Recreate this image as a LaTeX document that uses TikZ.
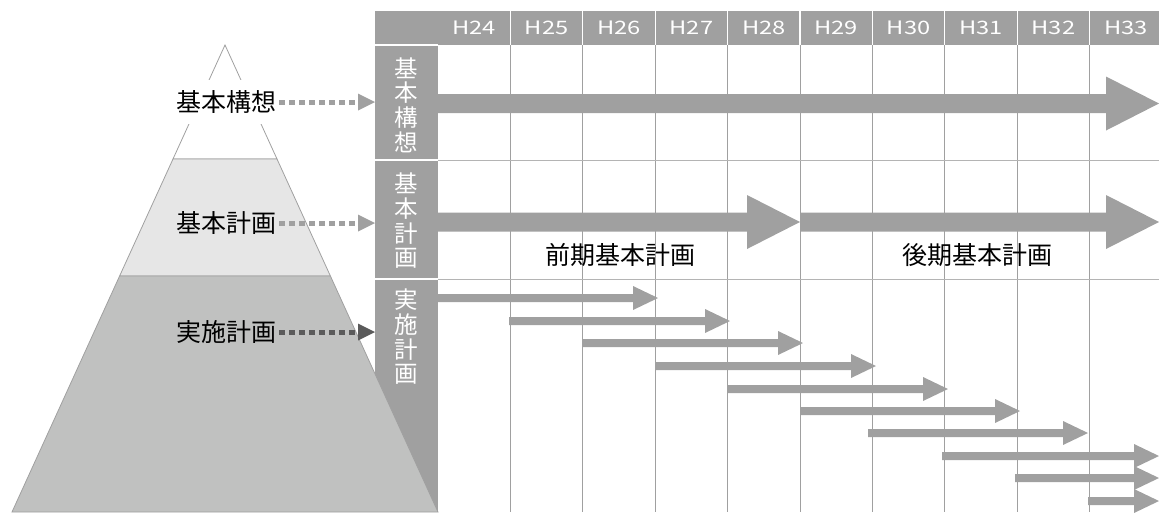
\documentclass[tikz,border=0pt]{standalone}
\usepackage{fontspec}
\setmainfont{Noto Sans CJK JP}
\definecolor{colgray}{HTML}{A0A0A0}
\definecolor{gridgray}{HTML}{A0A0A0}
\definecolor{hgray}{HTML}{B4B4B4}
\definecolor{pyrmid}{HTML}{E6E6E6}
\definecolor{pyrlow}{HTML}{C0C1C0}
\definecolor{dotdark}{HTML}{5A5A5A}
\newcommand\smallarrow[3]{\fill[colgray] (#1,#3-4) -- (#2-25,#3-4) -- (#2-25,#3-12) -- (#2,#3) -- (#2-25,#3+12) -- (#2-25,#3+4) -- (#1,#3+4) -- cycle;}
\newcommand\bigarrow[3]{\fill[colgray] (#1,#3-9.5) -- (#2-53,#3-9.5) -- (#2-53,#3-27) -- (#2,#3) -- (#2-53,#3+27) -- (#2-53,#3+9.5) -- (#1,#3+9.5) -- cycle;}
\begin{document}
\begin{tikzpicture}[x=1pt,y=-1pt,
  hdr/.style={text=white,font=\fontsize{18.5}{18.5}\selectfont,inner sep=0pt},
  coltext/.style={text=white,font=\fontsize{23.5}{24.7}\selectfont,align=center,inner sep=0pt},
  lbl/.style={text=black,font=\fontsize{25}{25}\selectfont,inner xsep=3pt,inner ysep=0pt},
  dots/.style={line width=5pt,dash pattern=on 6pt off 4pt},
  pyr/.style={draw=colgray,line width=0.8pt}]
\useasboundingbox (0,0) rectangle (1159,512);
% header band
\fill[colgray] (375,11) rectangle (1159,45);
\foreach \i in {1,...,9} \draw[white,line width=1.2pt] (438+72.4*\i,11) -- (438+72.4*\i,45);
\foreach \i/\t in {0/H24,1/H25,2/H26,3/H27,4/H28,5/H29,6/H30,7/H31,8/H32,9/H33}
  \node[hdr] (h\i) at (438+72.4*\i+36.2,28) {\scalebox{1.28}[1]{\t}};
% left column
\fill[colgray] (375,45) rectangle (438,512);
\foreach \y in {45,160,279} \draw[white,line width=1.2pt] (375,\y) -- (438,\y);
% grid
\foreach \i in {1,...,9} \draw[gridgray,line width=1pt] (438+72.4*\i,45) -- (438+72.4*\i,512);
\foreach \y in {160,279} \draw[hgray,line width=1pt] (438,\y) -- (1159,\y);
% column texts
\node[coltext] (c1) at (406.5,105) {基\\本\\構\\想};
\node[coltext] (c2) at (406.5,221) {基\\本\\計\\画};
\node[coltext] (c3) at (406.5,337) {実\\施\\計\\画};
% big arrows
\bigarrow{438}{1159}{103.5}
\bigarrow{438}{800}{222}
\bigarrow{801}{1159}{222}
\node[font=\fontsize{25}{25}\selectfont,inner sep=0pt] (early) at (620,255) {前期基本計画};
\node[font=\fontsize{25}{25}\selectfont,inner sep=0pt] (late) at (977,255) {後期基本計画};
% small arrows
\smallarrow{438}{658}{298}
\smallarrow{509}{730}{321}
\smallarrow{583}{803}{343}
\smallarrow{656}{876}{366}
\smallarrow{728}{948}{389}
\smallarrow{800}{1020}{411}
\smallarrow{868}{1088}{433}
\smallarrow{942}{1159}{456}
\smallarrow{1015}{1159}{478}
\smallarrow{1088}{1159}{501}
% pyramid
\path[pyr,fill=white] (225,45) -- (277,159) -- (173,159) -- cycle;
\path[pyr,fill=pyrmid] (173,159) -- (277,159) -- (330.4,276) -- (119.6,276) -- cycle;
\path[pyr,fill=pyrlow] (119.6,276) -- (330.4,276) -- (438,512) -- (12,512) -- cycle;
% labels
\node[lbl,fill=white,minimum height=44pt] (p1) at (226,102) {基本構想};
\node[lbl] (p2) at (226,223) {基本計画};
\node[lbl] (p3) at (226,332) {実施計画};
% dotted connectors
\coordinate (e1) at (358,102);
\coordinate (e2) at (358,223);
\coordinate (e3) at (358,332);
\draw[dots,colgray] (p1.east) -- (e1);
\fill[colgray] (358,93.5) -- (375,102) -- (358,110.5) -- cycle;
\draw[dots,colgray] (p2.east) -- (e2);
\fill[colgray] (358,214.5) -- (375,223) -- (358,231.5) -- cycle;
\draw[dots,dotdark] (p3.east) -- (e3);
\fill[dotdark] (358,323.5) -- (375,332) -- (358,340.5) -- cycle;
\end{tikzpicture}
\end{document}
